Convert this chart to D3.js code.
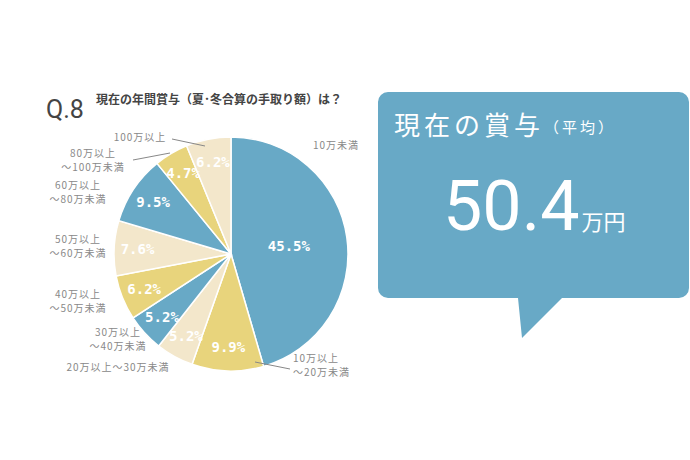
<!DOCTYPE html>
<html><head><meta charset="utf-8">
<script src="https://cdn.jsdelivr.net/npm/d3@7"></script>
<style>body{margin:0;background:#fff;font-family:"Noto Sans CJK JP",sans-serif}</style>
</head><body><svg id="c" width="690" height="460"></svg>
<script>
// data, clockwise from 12 o'clock
var categories = ['10万未満', '10万以上～20万未満', '20万以上～30万未満', '30万以上～40万未満',
  '40万以上～50万未満', '50万以上～60万未満', '60万以上～80万未満', '80万以上～100万未満', '100万以上'];
var shares = [45.5, 9.9, 5.2, 5.2, 6.2, 7.6, 9.5, 4.7, 6.2];
var average = 50.4;

var colors = ['#68a9c6', '#e8d47c', '#f3e7cb'];
// outer category label layout: [x, y, anchor, line1, line2]
var outer = [
  [336, 149, 'middle', '10万未満', null],
  [293, 362, 'start', '10万以上', '～20万未満'],
  [118, 371, 'middle', '20万以上～30万未満', null],
  [118, 336, 'middle', '30万以上', '～40万未満'],
  [78, 298, 'middle', '40万以上', '～50万未満'],
  [78, 243, 'middle', '50万以上', '～60万未満'],
  [78, 189, 'middle', '60万以上', '～80万未満'],
  [93, 157, 'middle', '80万以上', '～100万未満'],
  [140, 141, 'middle', '100万以上', null]
];

var svg = d3.select('#c');
var cx = 231, cy = 254, r = 117;

svg.append('text').attr('x', 46).attr('y', 118).attr('font-size', 25)
  .attr('font-family', 'Roboto, sans-serif').attr('fill', '#444').text('Q.8');
svg.append('text').attr('x', 96).attr('y', 104).attr('font-size', 12)
  .attr('font-weight', 'bold').attr('fill', '#444').text('現在の年間賞与（夏･冬合算の手取り額）は？');

var pie = d3.pie().sort(null).value(function(d) { return d; });
var arcs = pie(shares);
var arc = d3.arc().innerRadius(0).outerRadius(r);
var g = svg.append('g').attr('transform', 'translate(' + cx + ',' + cy + ')');

g.selectAll('path').data(arcs).enter().append('path')
  .attr('d', arc)
  .attr('fill', function(d, i) { return colors[i % 3]; })
  .attr('stroke', '#fff').attr('stroke-width', 1.5);

g.selectAll('text.pct').data(arcs).enter().append('text')
  .attr('class', 'pct')
  .attr('transform', function(d, i) {
    var rr = i === 0 ? r * 0.5 : r * 0.8;
    var a = (d.startAngle + d.endAngle) / 2;
    return 'translate(' + (Math.sin(a) * rr) + ',' + (-Math.cos(a) * rr) + ')';
  })
  .attr('text-anchor', 'middle').attr('dy', '0.35em')
  .attr('font-size', 14).attr('font-weight', 'bold')
  .attr('font-family', '"DejaVu Sans Mono", monospace')
  .attr('fill', '#fff')
  .text(function(d) { return d.data.toFixed(1) + '%'; });

// leader lines
var leaders = [[172, 139, 205, 146], [133, 160, 170, 153], [255, 362, 290, 369]];
svg.selectAll('line.ld').data(leaders).enter().append('line')
  .attr('x1', function(d) { return d[0]; }).attr('y1', function(d) { return d[1]; })
  .attr('x2', function(d) { return d[2]; }).attr('y2', function(d) { return d[3]; })
  .attr('stroke', '#888').attr('stroke-width', 1);

outer.forEach(function(o) {
  var t = svg.append('text').attr('x', o[0]).attr('y', o[1]).attr('text-anchor', o[2])
    .attr('font-size', 10).attr('fill', '#888').attr('letter-spacing', 1);
  t.append('tspan').attr('x', o[0]).text(o[3]);
  if (o[4]) t.append('tspan').attr('x', o[0]).attr('dy', 14).text(o[4]);
});

// speech bubble
var bx = 378, by = 92, bw = 311, bh = 206, rad = 10;
var p = d3.path();
p.moveTo(bx + rad, by);
p.lineTo(bx + bw - rad, by); p.arcTo(bx + bw, by, bx + bw, by + rad, rad);
p.lineTo(bx + bw, by + bh - rad); p.arcTo(bx + bw, by + bh, bx + bw - rad, by + bh, rad);
p.lineTo(562, by + bh); p.lineTo(522, 338); p.lineTo(518, by + bh);
p.lineTo(bx + rad, by + bh); p.arcTo(bx, by + bh, bx, by + bh - rad, rad);
p.lineTo(bx, by + rad); p.arcTo(bx, by, bx + rad, by, rad);
p.closePath();
svg.append('path').attr('d', p.toString()).attr('fill', '#68a9c6');

var h = svg.append('text').attr('x', 394).attr('y', 135).attr('fill', '#fff')
  .attr('font-size', 26).attr('letter-spacing', 4);
h.append('tspan').text('現在の賞与');
h.append('tspan').attr('font-size', 15).attr('letter-spacing', 3).attr('dy', -2).text('（平均）');

var n = svg.append('text').attr('x', 443).attr('y', 230).attr('fill', '#fff');
n.append('tspan').attr('font-size', 70).attr('font-family', 'Roboto, sans-serif').text(average.toFixed(1));
n.append('tspan').attr('font-size', 22).attr('dx', 2).text('万円');
</script></body></html>
